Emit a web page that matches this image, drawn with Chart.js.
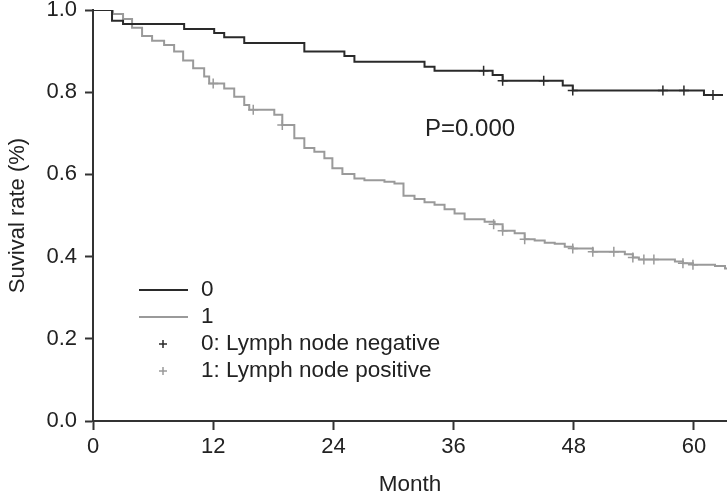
<!DOCTYPE html>
<html>
<head>
<meta charset="utf-8">
<script src="https://cdn.jsdelivr.net/npm/chart.js@4/dist/chart.umd.min.js"></script>
<style>
  html, body { margin: 0; padding: 0; background: #fff; }
  #wrap { width: 727px; height: 496px; position: relative; }
</style>
</head>
<body>
<div id="wrap"><canvas id="km"></canvas></div>
<script>
// Kaplan-Meier steps: time (month) where survival drops to the value
const negTimes = [0, 1.9, 3.0, 9.1, 12.1, 13.1, 15.1, 21.1, 25.1, 26.1, 33.1, 34.1, 39.9, 40.9, 46.9, 47.9, 61.0, 62.9];
const negSurv = [1.0, 0.974, 0.966, 0.954, 0.944, 0.934, 0.92, 0.899, 0.888, 0.874, 0.862, 0.852, 0.842, 0.828, 0.816, 0.804, 0.793, 0.793];

const posTimes = [0, 2.0, 3.0, 3.9, 4.9, 5.9, 7.1, 8.1, 9.0, 10.0, 11.1, 11.6, 13.1, 14.1, 15.1, 15.6,
  18.1, 18.9, 20.1, 21.1, 22.1, 23.1, 23.9, 24.9, 26.1, 27.1, 29.1, 30.1, 31.0, 32.1, 33.1, 34.1,
  35.1, 36.1, 37.1, 39.1, 40.1, 40.9, 42.1, 43.1, 44.1, 45.1, 46.1, 47.1, 47.9, 49.9, 53.1, 53.9,
  54.5, 58.1, 58.9, 59.9, 62.1, 63.1, 63.3];
const posSurv = [1.0, 0.99, 0.978, 0.957, 0.937, 0.925, 0.915, 0.899, 0.877, 0.858, 0.838, 0.821, 0.809, 0.789, 0.769, 0.757,
  0.745, 0.72, 0.688, 0.664, 0.655, 0.639, 0.615, 0.601, 0.59, 0.586, 0.582, 0.578, 0.548, 0.54, 0.532, 0.526,
  0.515, 0.505, 0.491, 0.485, 0.479, 0.463, 0.457, 0.442, 0.439, 0.434, 0.431, 0.424, 0.42, 0.412, 0.406, 0.398,
  0.393, 0.388, 0.384, 0.38, 0.377, 0.371, 0.371];

// censored observations
const negCensorTimes = [39.0, 40.9, 45.0, 47.9, 56.9, 59.0, 61.9];
const negCensorSurv = [0.852, 0.828, 0.828, 0.804, 0.804, 0.804, 0.793];
const posCensorTimes = [12.0, 16.0, 18.9, 40.0, 40.9, 43.1, 47.9, 49.9, 52.0, 53.9, 55.0, 56.0, 58.9, 59.9];
const posCensorSurv = [0.821, 0.757, 0.72, 0.479, 0.463, 0.442, 0.42, 0.412, 0.412, 0.398, 0.393, 0.393, 0.384, 0.38];

const xTicks = [0, 12, 24, 36, 48, 60];
const yTicks = [0, 0.2, 0.4, 0.6, 0.8, 1.0];
const legendLabels = ["0", "1", "0: Lymph node negative", "1: Lymph node positive"];
const pValueText = "P=0.000";

const darkColor = "#2a2a2a";
const grayColor = "#9a9a9a";
const axisColor = "#333333";
const FONT = "'Liberation Sans', Arial, sans-serif";

const toPoints = (xs, ys) => xs.map((x, i) => ({ x: x, y: ys[i] }));

// draws the legend block and the p-value inside the plot
const annotations = {
  id: "annotations",
  afterDraw(chart) {
    const c = chart.ctx;
    c.save();
    c.font = "22.5px " + FONT;
    c.fillStyle = "#222";
    c.textBaseline = "middle";
    const rows = [290, 317, 344, 371];
    // line samples
    c.lineWidth = 2;
    c.strokeStyle = darkColor;
    c.beginPath(); c.moveTo(139, rows[0]); c.lineTo(188, rows[0]); c.stroke();
    c.strokeStyle = grayColor;
    c.beginPath(); c.moveTo(139, rows[1]); c.lineTo(188, rows[1]); c.stroke();
    // cross samples
    const cross = (x, y, col) => {
      c.strokeStyle = col;
      c.lineWidth = 1.5;
      c.beginPath();
      c.moveTo(x - 4, y); c.lineTo(x + 4, y);
      c.moveTo(x, y - 4); c.lineTo(x, y + 4);
      c.stroke();
    };
    cross(163, rows[2], darkColor);
    cross(163, rows[3], grayColor);
    legendLabels.forEach((t, i) => c.fillText(t, 201, rows[i]));
    c.font = "24px " + FONT;
    c.fillText(pValueText, 425, 129);
    c.restore();
  },
};

new Chart(document.getElementById("km"), {
  type: "scatter",
  data: {
    datasets: [
      {
        label: "0",
        data: toPoints(negTimes, negSurv),
        showLine: true,
        stepped: true,
        borderColor: darkColor,
        borderWidth: 2,
        pointRadius: 0,
      },
      {
        label: "1",
        data: toPoints(posTimes, posSurv),
        showLine: true,
        stepped: true,
        borderColor: grayColor,
        borderWidth: 2,
        pointRadius: 0,
      },
      {
        label: "0: Lymph node negative",
        data: toPoints(negCensorTimes, negCensorSurv),
        pointStyle: "cross",
        pointRadius: 5,
        borderColor: darkColor,
        borderWidth: 1.5,
      },
      {
        label: "1: Lymph node positive",
        data: toPoints(posCensorTimes, posCensorSurv),
        pointStyle: "cross",
        pointRadius: 5,
        borderColor: grayColor,
        borderWidth: 1.5,
      },
    ],
  },
  options: {
    responsive: true,
    maintainAspectRatio: false,
    animation: false,
    layout: { autoPadding: false, padding: { top: 10, right: 0, left: 0, bottom: 0 } },
    plugins: {
      legend: { display: false },
      tooltip: { enabled: false },
    },
    scales: {
      x: {
        type: "linear",
        min: 0,
        max: 63.3,
        afterBuildTicks: (s) => { s.ticks = xTicks.map((v) => ({ value: v })); },
        afterFit: (s) => { s.height = 75; s.paddingLeft = 0; s.paddingRight = 0; },
        border: { display: true, color: axisColor, width: 2 },
        grid: { drawOnChartArea: false, drawTicks: true, tickLength: 9, tickColor: axisColor, tickWidth: 2 },
        ticks: { color: "#222", padding: 4, font: { family: FONT, size: 22 } },
        title: {
          display: true,
          text: "Month",
          color: "#222",
          font: { family: FONT, size: 22.5, lineHeight: 1 },
          padding: 0,
        },
      },
      y: {
        min: 0,
        max: 1,
        afterBuildTicks: (s) => { s.ticks = yTicks.map((v) => ({ value: v })); },
        afterFit: (s) => { s.width = 93; s.paddingTop = 0; s.paddingBottom = 0; },
        border: { display: true, color: axisColor, width: 2 },
        grid: { drawOnChartArea: false, drawTicks: true, tickLength: 8, tickColor: axisColor, tickWidth: 2 },
        ticks: {
          color: "#222",
          padding: 8,
          font: { family: FONT, size: 22 },
          callback: (v) => v.toFixed(1),
        },
        title: {
          display: true,
          text: "Suvival rate (%)",
          color: "#222",
          font: { family: FONT, size: 22, lineHeight: 1 },
          padding: { top: 7, bottom: 0 },
        },
      },
    },
  },
  plugins: [annotations],
});
</script>
</body>
</html>
